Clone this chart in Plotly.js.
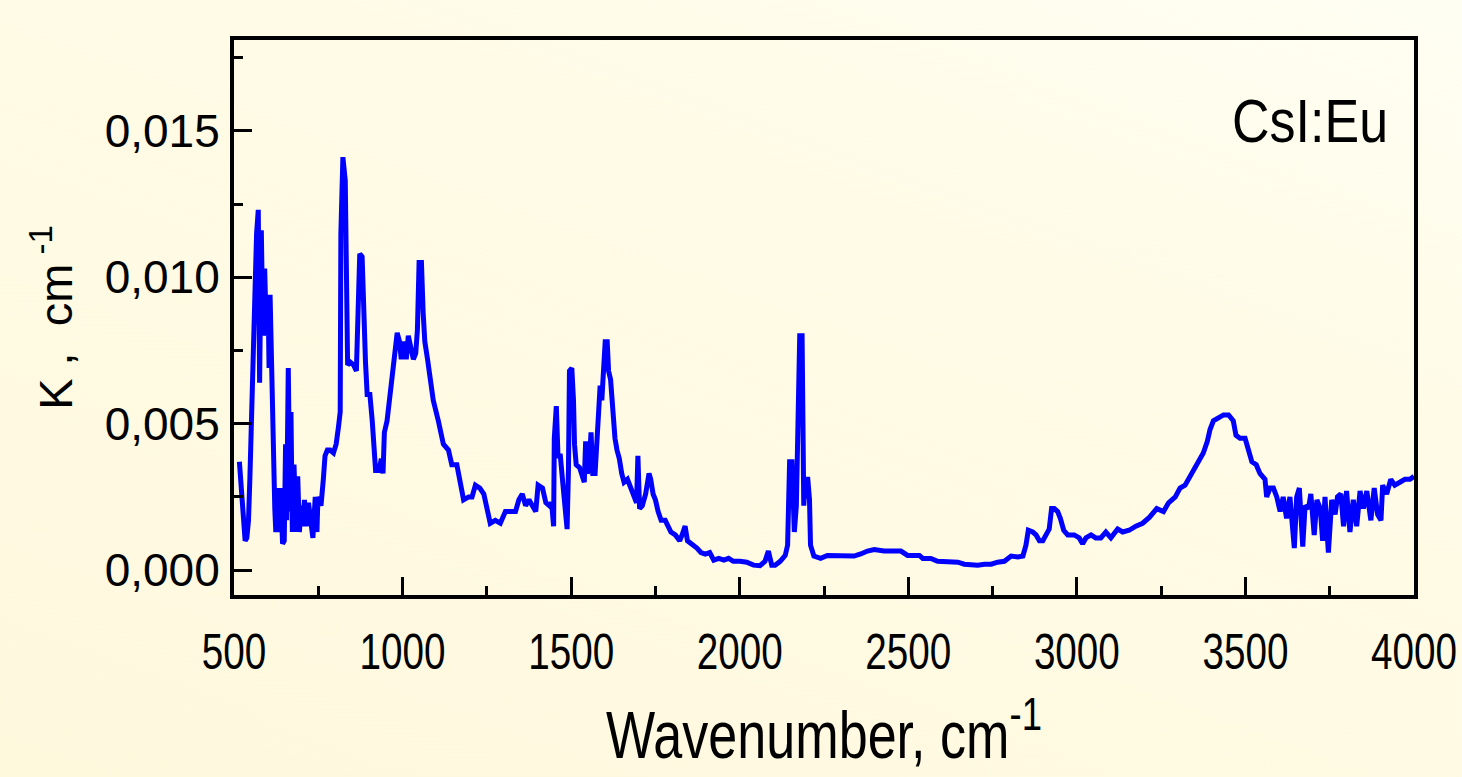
<!DOCTYPE html>
<html>
<head>
<meta charset="utf-8">
<script src="https://cdn.plot.ly/plotly-3.0.1.min.js"></script>
<style>
  html, body { margin: 0; padding: 0; }
  body { width: 1462px; height: 777px; overflow: hidden;
         background: linear-gradient(200deg, #FFFEF3 0%, #FFFBE6 35%, #FEF8DD 100%); }
  #chart { width: 1462px; height: 777px; }
</style>
</head>
<body>
<div id="chart"></div>
<script>
// Wavenumber (cm^-1)
const wavenumber = [
516,520,525,533,538,543,547,549,552,557,562,567,572,576,581,586,591,596,601,604,607,611,614,618,621,624,628,634,638,644,649,653,656,661,666,669,673,678,684,689,694,699,704,709,714,721,728,734,741,746,749,758,765,770,777,785,795,803,810,815,817,823,830,833,837,845,855,863,868,873,880,885,890,895,903,910,915,920,930,937,942,946,954,959,964,969,974,979,984,991,996,1004,1011,1017,1024,1032,1039,1044,1049,1056,1061,1066,1074,
1081,1091,1106,1121,1136,1146,1161,1171,1181,1196,1206,1216,1229,1241,1251,1260,1275,1290,1305,1320,1335,1345,1355,1365,1375,1385,1395,1402,1415,1425,1435,1442,1448,1450,1456,1461,1468,1475,1482,1488,1492,1495,1502,1507,1510,1515,1525,1532,1539,1543,1548,1553,1559,1564,1571,1579,1586,1591,1596,1601,1607,1611,1617,1621,1626,1630,1636,1643,1650,1657,1667,1677,1687,1694,1698,1703,1711,1721,1731,1736,1743,1750,1758,1767,1779,1789,1796,1809,1822,1829,1838,1845,1858,1873,1885,1898,1911,1923,1938,1953,1967,
1981,2001,2021,2041,2060,2075,2085,2095,2105,2120,2135,2142,2148,2155,2162,2168,2172,2178,2185,2190,2195,2202,2207,2210,2220,2240,2260,2280,2300,2320,2339,2359,2379,2399,2428,2458,2478,2498,2518,2533,2543,2567,2587,2607,2627,2647,2666,2686,2706,2726,2746,2765,2785,2805,2825,2840,2849,2856,2869,2879,2889,2899,2909,2918,2925,2933,2943,2951,2961,2973,2992,3007,3017,3027,3042,3056,3071,3086,3101,3121,3136,3155,3175,3195,3215,
3237,3257,3272,3292,3306,3321,3336,3351,3366,3375,3387,3395,3405,3420,3435,3450,3464,3472,3484,3499,3509,3519,3532,3543,3558,3563,3573,3583,3593,3603,3612,3622,3632,3645,3652,3660,3670,3677,3687,3694,3704,3712,3722,3729,3736,3746,3756,3766,3773,3783,3791,3800,3810,3820,3830,3840,3850,3860,3872,3882,3892,3902,3907,3919,3931,3943,3958,3973,3988,4000
];
// Absorption coefficient K (cm^-1)
const absorptionK = [
0.0037,0.0031,0.0022,0.0010,0.0011,0.0017,0.0031,0.0041,0.0057,0.0071,0.0090,0.0115,0.0123,0.0064,0.0116,0.0080,0.0103,0.0080,0.0094,0.0069,0.0094,0.0069,0.0045,0.0029,0.0021,0.0013,0.0028,0.0013,0.0028,0.0009,0.0010,0.0043,0.0017,0.0069,0.0020,0.0054,0.0013,0.0036,0.0013,0.0032,0.0013,0.0022,0.0015,0.0024,0.0015,0.0023,0.0015,0.0011,0.0025,0.0013,0.0025,0.0022,0.0031,0.0039,0.0041,0.0041,0.0040,0.0043,0.0049,0.0054,0.0115,0.0141,0.0133,0.0094,0.0070,0.0071,0.0070,0.0068,0.0094,0.0108,0.0107,0.0086,0.0071,0.0060,0.0060,0.0051,0.0039,0.0034,0.0034,0.0038,0.0033,0.0047,0.0051,0.0056,0.0063,0.0068,0.0072,0.0077,0.0081,0.0078,0.0072,0.0078,0.0072,0.0080,0.0076,0.0072,0.0074,0.0082,0.0105,0.0105,0.0088,0.0078,0.0072,
0.0066,0.0058,0.0051,0.0043,0.0041,0.0036,0.0036,0.0029,0.0024,0.0025,0.0025,0.0029,0.0028,0.0026,0.0020,0.0016,0.0017,0.0016,0.0020,0.0020,0.0020,0.0024,0.0026,0.0022,0.0024,0.0022,0.0020,0.0029,0.0028,0.0023,0.0022,0.0023,0.0015,0.0045,0.0056,0.0039,0.0039,0.0030,0.0022,0.0014,0.0034,0.0068,0.0069,0.0058,0.0043,0.0036,0.0035,0.0032,0.0030,0.0044,0.0033,0.0035,0.0047,0.0033,0.0033,0.0049,0.0063,0.0058,0.0070,0.0078,0.0078,0.0068,0.0065,0.0058,0.0052,0.0045,0.0041,0.0038,0.0033,0.0030,0.0031,0.0028,0.0026,0.0023,0.0039,0.0021,0.0022,0.0026,0.0033,0.0031,0.0026,0.0024,0.0020,0.0017,0.0017,0.0015,0.0013,0.0012,0.0010,0.0012,0.0015,0.0010,0.0009,0.00075,0.0006,0.00055,0.0006,0.00034,0.0004,0.00034,0.0004,
0.0003,0.0003,0.00027,0.00017,0.00015,0.0003,0.00065,0.00017,0.00017,0.0003,0.0005,0.00085,0.0037,0.0037,0.0013,0.0022,0.0043,0.0080,0.0080,0.0022,0.0031,0.0031,0.0024,0.00085,0.00048,0.0004,0.0005,0.0005,0.0005,0.0005,0.00048,0.00055,0.00065,0.0007,0.00065,0.00065,0.00065,0.0005,0.00048,0.0005,0.0004,0.0004,0.0003,0.0003,0.0003,0.00027,0.0002,0.00017,0.00017,0.0002,0.0002,0.00027,0.0003,0.00048,0.00045,0.00048,0.00085,0.00136,0.0013,0.0012,0.0010,0.0010,0.0012,0.0014,0.0021,0.0021,0.0020,0.00177,0.00136,0.0012,0.0012,0.0011,0.0009,0.0011,0.0012,0.0011,0.0011,0.0013,0.0011,0.0014,0.0013,0.00136,0.0015,0.0016,0.0018,
0.0021,0.0020,0.0023,0.0025,0.0028,0.0029,0.0032,0.0035,0.0038,0.0040,0.0044,0.0048,0.0051,0.0052,0.0053,0.0053,0.0051,0.0046,0.0045,0.0045,0.0041,0.0037,0.0036,0.0033,0.0031,0.0025,0.0028,0.0028,0.0025,0.0020,0.0025,0.00177,0.0025,0.00075,0.0025,0.0028,0.0008,0.0022,0.0021,0.0026,0.0012,0.0024,0.0021,0.0010,0.0025,0.0006,0.0024,0.0019,0.0025,0.0026,0.0015,0.0027,0.0013,0.0024,0.0015,0.0027,0.0021,0.0027,0.0017,0.0028,0.0019,0.0017,0.0029,0.0026,0.0031,0.0029,0.0030,0.0031,0.0031,0.0032
];

const xTickValues = [500, 1000, 1500, 2000, 2500, 3000, 3500, 4000];
const xTickLabels = ["500", "1000", "1500", "2000", "2500", "3000", "3500", "4000"];
const xMinorTicks = [750, 1250, 1750, 2250, 2750, 3250, 3750];
const yTickValues = [0, 0.005, 0.010, 0.015];
const yTickLabels = ["0,000", "0,005", "0,010", "0,015"];
const yMinorTicks = [0.0025, 0.0075, 0.0125, 0.0175];
const sampleLabel = "CsI:Eu";

const normal = "'Liberation Sans', Arial, sans-serif";

const trace = {
  x: wavenumber, y: absorptionK, type: 'scatter', mode: 'lines',
  line: { color: '#0000FF', width: 5 }, hoverinfo: 'skip', showlegend: false
};

const layout = {
  width: 1462, height: 777,
  margin: { l: 234, r: 48, t: 40, b: 182 },
  paper_bgcolor: 'rgba(0,0,0,0)', plot_bgcolor: 'rgba(0,0,0,0)',
  showlegend: false,
  xaxis: {
    range: [500, 4000], autorange: false,
    tickmode: 'array', tickvals: xTickValues, ticktext: xTickLabels,
    ticks: 'inside', ticklen: 18, tickwidth: 3, tickcolor: '#000',
    minor: { tickmode: 'array', tickvals: xMinorTicks, ticks: 'inside', ticklen: 9, tickwidth: 3, tickcolor: '#000', showgrid: false },
    showline: true, linewidth: 4, linecolor: '#000', mirror: true,
    showgrid: false, zeroline: false,
    tickfont: { family: normal, size: 50, color: '#000' },
    ticklabelstandoff: 10,
    ticklabeloverflow: 'allow',
    automargin: false,
    title: { text: 'Wavenumber, cm<sup>-1</sup>', font: { family: normal, size: 66, color: '#000' }, standoff: 34 }
  },
  yaxis: {
    range: [-0.00085, 0.0181], autorange: false,
    tickmode: 'array', tickvals: yTickValues, ticktext: yTickLabels,
    ticks: 'inside', ticklen: 18, tickwidth: 3, tickcolor: '#000',
    minor: { tickmode: 'array', tickvals: yMinorTicks, ticks: 'inside', ticklen: 9, tickwidth: 3, tickcolor: '#000', showgrid: false },
    showline: true, linewidth: 4, linecolor: '#000', mirror: true,
    showgrid: false, zeroline: false,
    tickfont: { family: normal, size: 46, color: '#000' },
    ticklabelstandoff: 1,
    automargin: false,
    title: { text: 'K ,  cm<sup> -1</sup>', font: { family: normal, size: 47, color: '#000' }, standoff: 18 }
  },
  annotations: [{
    text: sampleLabel, xref: 'paper', yref: 'paper', x: 0.98, y: 0.855,
    xanchor: 'right', yanchor: 'middle', showarrow: false,
    font: { family: normal, size: 62, color: '#000' }
  }]
};

// Horizontally condense a text element around its centre (or right edge) to a target width.
function squeeze(el, scale, anchor) {
  const bb = el.getBBox();
  const cx = anchor === 'right' ? bb.x + bb.width : bb.x + bb.width / 2;
  const prev = el.getAttribute('transform') || '';
  el.setAttribute('transform', prev + ' translate(' + cx + ',0) scale(' + scale + ',1) translate(' + (-cx) + ',0)');
}

Plotly.newPlot('chart', [trace], layout, { staticPlot: true, displayModeBar: false }).then(function (gd) {
  const ticks = gd.querySelectorAll('.xaxislayer-above .xtick text');
  let ref = null;
  ticks.forEach(function (t) { if (t.textContent === '1000') ref = t; });
  const sTick = ref ? 86 / ref.getBBox().width : 0.77;
  ticks.forEach(function (t) { squeeze(t, sTick, 'center'); });
  const xt = gd.querySelector('.g-xtitle text');
  if (xt) squeeze(xt, 436 / xt.getBBox().width, 'center');
  const an = gd.querySelector('.annotation-text');
  if (an) squeeze(an, 156 / an.getBBox().width, 'right');
});
</script>
</body>
</html>
